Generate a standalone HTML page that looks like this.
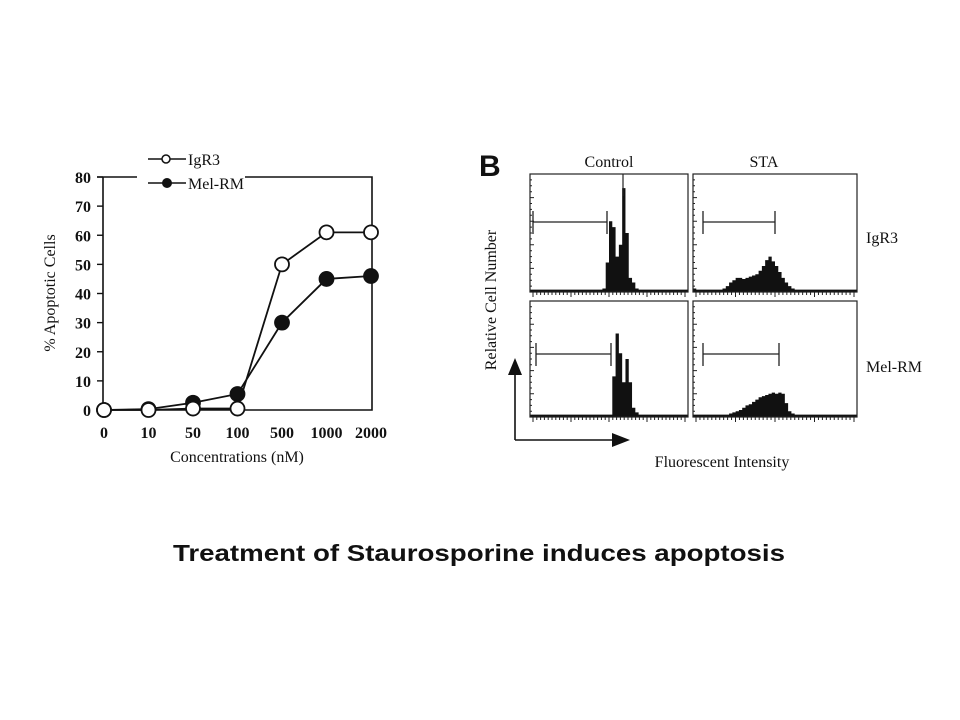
<!DOCTYPE html>
<html><head><meta charset="utf-8"><style>
html,body{margin:0;padding:0;background:#fff;}
svg{display:block;}
text{font-family:"Liberation Serif",serif;fill:#111;}
</style></head><body>
<svg width="960" height="720" viewBox="0 0 960 720">
<g id="lineChart"></g>
<g id="histos"></g>
<text x="479" y="561" text-anchor="middle" textLength="612" lengthAdjust="spacingAndGlyphs" style="font-family:'Liberation Sans',sans-serif;font-weight:bold;font-size:23px">Treatment of Staurosporine induces apoptosis</text>
</svg>
<script>
const categories = ["0","10","50","100","500","1000","2000"];
const igr3Values = [0, 0, 0.5, 0.5, 50, 61, 61];
const melValues = [0, 0.3, 2.5, 5.5, 30, 45, 46];
const yTicks = [0,10,20,30,40,50,60,70,80];

const histCtrlIgR3 = [0.02,0.02,0.02,0.02,0.02,0.02,0.02,0.02,0.02,0.02,0.02,0.02,0.02,0.02,0.02,0.02,0.02,0.02,0.02,0.02,0.02,0.02,0.03,0.25,0.6,0.55,0.3,0.4,0.88,0.5,0.12,0.08,0.03,0.02,0.02,0.02,0.02,0.02,0.02,0.02,0.02,0.02,0.02,0.02,0.02,0.02,0.02,0.02];
const histStaIgR3 = [0.03,0.02,0.02,0.02,0.02,0.02,0.02,0.02,0.02,0.03,0.05,0.08,0.1,0.12,0.12,0.11,0.12,0.13,0.14,0.15,0.18,0.22,0.27,0.3,0.26,0.22,0.17,0.12,0.08,0.05,0.03,0.02,0.02,0.02,0.02,0.02,0.02,0.02,0.02,0.02,0.02,0.02,0.02,0.02,0.02,0.02,0.02,0.02,0.02,0.02];
const histCtrlMel = [0.02,0.02,0.02,0.02,0.02,0.02,0.02,0.02,0.02,0.02,0.02,0.02,0.02,0.02,0.02,0.02,0.02,0.02,0.02,0.02,0.02,0.02,0.02,0.02,0.02,0.35,0.72,0.55,0.3,0.5,0.3,0.08,0.04,0.02,0.02,0.02,0.02,0.02,0.02,0.02,0.02,0.02,0.02,0.02,0.02,0.02,0.02,0.02];
const histStaMel = [0.02,0.02,0.02,0.02,0.02,0.02,0.02,0.02,0.02,0.02,0.02,0.03,0.04,0.05,0.06,0.08,0.1,0.11,0.13,0.15,0.17,0.18,0.19,0.2,0.21,0.2,0.21,0.2,0.12,0.05,0.03,0.02,0.02,0.02,0.02,0.02,0.02,0.02,0.02,0.02,0.02,0.02,0.02,0.02,0.02,0.02,0.02,0.02,0.02,0.02];

const NS="http://www.w3.org/2000/svg";
function mk(tag, attrs, parent, txt){const e=document.createElementNS(NS,tag);for(const k in attrs)e.setAttribute(k,attrs[k]);if(txt!==undefined)e.textContent=txt;parent.appendChild(e);return e;}

// ---- Line chart ----
const lc=document.getElementById('lineChart');
const X0=104, X1=371, Y0=410, Y1=177;
const xPos=i=>X0+(X1-X0)*i/(categories.length-1);
const yPos=v=>Y0-(Y0-Y1)*v/80;
let e;
e=mk('path',{d:`M97 ${Y1} H137 M245 ${Y1} H372 V${Y0} H103 V${Y1}`,fill:'none',stroke:'#111','stroke-width':1.6},lc);


yTicks.forEach(t=>{
  const y=yPos(t);
  const tk=mk('line',{x1:97,x2:103,y1:y,y2:y,stroke:'#111','stroke-width':1.4},lc);
  
  
  const tl=mk('text',{x:91,y:y+6,'text-anchor':'end','font-size':16,'font-weight':'bold'},lc,String(t));
  
  
});
categories.forEach((c,i)=>{
  const tl=mk('text',{x:xPos(i),y:438,'text-anchor':'middle','font-size':16,'font-weight':'bold'},lc,c);
  
  
});
e=mk('text',{x:237,y:462,'text-anchor':'middle','font-size':16},lc,'Concentrations (nM)');


e=mk('text',{x:0,y:0,'text-anchor':'middle','font-size':16,transform:'translate(55,293) rotate(-90)'},lc,'% Apoptotic Cells');


function series(vals, fill, name){
  const d=vals.map((v,i)=>(i?'L':'M')+xPos(i)+' '+yPos(v)).join(' ');
  const p=mk('path',{d:d,fill:'none',stroke:'#111','stroke-width':1.8},lc);
  
  
  vals.forEach((v,i)=>{
    const c=mk('circle',{cx:xPos(i),cy:yPos(v),r:7,fill:fill,stroke:'#111','stroke-width':1.8},lc);
    
    
  });
}
series(melValues,'#111','mel-rm');
series(igr3Values,'#fff','igr3');
// legend
e=mk('line',{x1:148,x2:186,y1:159,y2:159,stroke:'#111','stroke-width':1.6},lc);


e=mk('circle',{cx:166,cy:159,r:4,fill:'#fff',stroke:'#111','stroke-width':1.5},lc);


e=mk('text',{x:188,y:165,'font-size':16},lc,'IgR3');


e=mk('line',{x1:148,x2:186,y1:183,y2:183,stroke:'#111','stroke-width':1.6},lc);


e=mk('circle',{cx:167,cy:183,r:5,fill:'#111'},lc);


e=mk('text',{x:188,y:189,'font-size':16},lc,'Mel-RM');



// ---- Histograms ----
const hg=document.getElementById('histos');
const panels=[
 {x:530,y:174,w:158,h:118,data:histCtrlIgR3,gate:[533,607,222],name:'control-igr3'},
 {x:693,y:174,w:164,h:118,data:histStaIgR3,gate:[703,775,222],name:'sta-igr3'},
 {x:530,y:301,w:158,h:116,data:histCtrlMel,gate:[536,611,354],name:'control-mel-rm'},
 {x:693,y:301,w:164,h:116,data:histStaMel,gate:[703,779,354],name:'sta-mel-rm'}
];
panels.forEach(p=>{
  const g=mk('g',{},hg);
  
  
  const bw=p.w/p.data.length;
  let d=`M${p.x} ${p.y+p.h}`;
  p.data.forEach((v,i)=>{const y=p.y+p.h-v*p.h;d+=` L${p.x+i*bw} ${y} L${p.x+(i+1)*bw} ${y}`;});
  d+=` L${p.x+p.w} ${p.y+p.h} Z`;
  const a=mk('path',{d:d,fill:'#111',stroke:'none'},g);
  
  
  const r=mk('rect',{x:p.x,y:p.y,width:p.w,height:p.h,fill:'none',stroke:'#222','stroke-width':1.2},g);
  
  
  let tk='';
  for(let i=1;i<20;i++){const y=p.y+p.h*i/20;tk+=`M${p.x} ${y} h${i%4==0?4:2} `;}
  for(let i=0;i<=40;i++){const x=p.x+3+(p.w-6)*i/40;tk+=`M${x} ${p.y+p.h} v${i%10==0?5:3} `;}
  const t=mk('path',{d:tk,stroke:'#222','stroke-width':1},g);
  
  
  const [gx1,gx2,gy]=p.gate;
  const gl=mk('path',{d:`M${gx1} ${gy-11} V${gy+12} M${gx1} ${gy} H${gx2} M${gx2} ${gy-11} V${gy+12}`,stroke:'#222','stroke-width':1.3,fill:'none'},g);
  
  
});
e=mk('line',{x1:623,x2:623,y1:174,y2:196,stroke:'#222','stroke-width':1.2},hg);


function lbl(x,y,t,name,extra){const el=mk('text',Object.assign({x:x,y:y,'font-size':16},extra||{}),hg,t);return el;}
e=mk('text',{x:479,y:176,'font-size':30,'font-weight':'bold',style:"font-family:'Liberation Sans',sans-serif"},hg,'B');


lbl(609,167,'Control','column-label-control',{'text-anchor':'middle'});
lbl(764,167,'STA','column-label-sta',{'text-anchor':'middle'});
lbl(866,243,'IgR3','row-label-igr3');
lbl(866,372,'Mel-RM','row-label-mel-rm');
lbl(0,0,'Relative Cell Number','y-axis-title-histogram',{'text-anchor':'middle',transform:'translate(496,300) rotate(-90)'});
lbl(722,467,'Fluorescent Intensity','x-axis-title-histogram',{'text-anchor':'middle'});
e=mk('path',{d:'M515 440 V375 M515 440 H612',stroke:'#111','stroke-width':1.6,fill:'none'},hg);


e=mk('path',{d:'M508 375 L515 358 L522 375 Z M612 433 L630 440 L612 447 Z',fill:'#111'},hg);


</script>
</body></html>
